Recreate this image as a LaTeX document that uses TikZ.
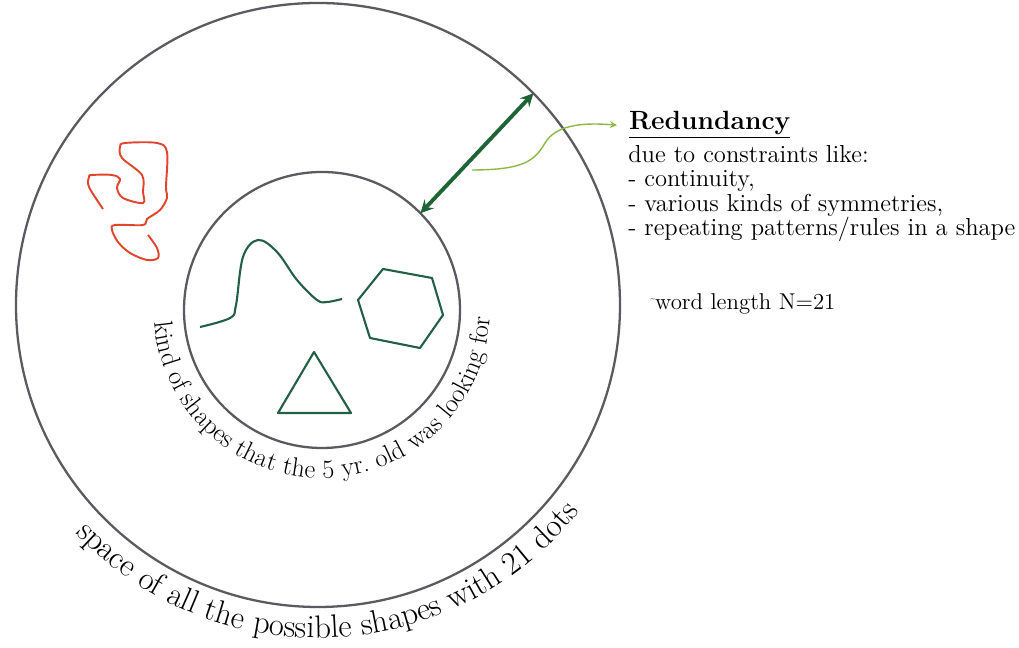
\documentclass[tikz,border=0pt]{standalone}
\usepackage{tikz}
\usetikzlibrary{calc, decorations.text}
\definecolor{ringgray}{RGB}{90,90,96}
\definecolor{shapegreen}{RGB}{35,95,70}
\definecolor{arrowgreen}{RGB}{30,100,55}
\definecolor{leafgreen}{RGB}{140,185,70}
\definecolor{scribred}{RGB}{225,70,45}

\begin{document}
\begin{tikzpicture}[x=0.02cm, y=0.02cm, >=stealth,
    ring/.style={line width=1.3pt, ringgray},
    wanted/.style={line width=1.2pt, shapegreen, line join=round}]
    \useasboundingbox (0,0) rectangle (1019,648);

    % Centres
    \coordinate (outerc) at (318,343);
    \coordinate (innerc) at (322,338);

    % Cercles
    \draw[ring] (outerc) circle (302);
    \draw[ring] (innerc) circle (138);

    % Textes le long des cercles
    \path[decorate, decoration={text along path, text align=center,
        text={|\fontsize{18.5}{21}\selectfont|space of all the possible shapes with 21 dots}}]
        ($(outerc)+(200:333)$) arc (200:345:333);
    \path[decorate, decoration={text along path, text align=center,
        text={|\fontsize{15}{17}\selectfont|kind of shapes that the 5 yr. old was looking for}}]
        ($(innerc)+(150:168)$) arc (150:392:168);

    % Forme quelconque
    \draw[scribred, line width=1.1pt] plot[smooth, tension=0.55] coordinates {
        (103,439) (89,461) (89,471) (92,473) (112,473) (120,469) (117,460)
        (123,450) (143,445) (143,456) (142,473) (122,490) (120,501) (125,505)
        (157,505) (167,496) (166,461) (167,450) (160,438) (147,429) (143,423)
        (115,423) (112,418) (118,406) (130,395) (147,388) (158,390) (157,400)
        (148,413)};

    % Formes recherchees
    \draw[wanted] plot[smooth, tension=0.6] coordinates {
        (200,321) (230,330) (236,343) (243,391) (258,408) (277,396)
        (297,368) (317,348) (327,346) (342,349)};
    \draw[wanted] (383,379) -- (432,370) -- (443,333) -- (420,300)
        -- (370,310) -- (358,348) -- cycle;
    \draw[wanted] (314,296) -- (351,235) -- (278,235) -- cycle;

    % Redondance
    \coordinate (gapin) at ($(innerc)+(44.5:138)$);
    \coordinate (gapout) at ($(outerc)+(44.5:302)$);
    \draw[<->, line width=2.2pt, arrowgreen] (gapin) -- (gapout);

    \node[anchor=base west, inner sep=1pt, font=\fontsize{15}{18}\selectfont\bfseries]
        (redund) at (627,518) {\underline{Redundancy}};
    \node[anchor=north west, align=left, inner sep=0pt,
        font=\fontsize{14}{13.9}\selectfont] (constraints) at (628,503)
        {due to constraints like:\\- continuity,\\- various kinds of symmetries,\\- repeating patterns/rules in a shape};
    \node[anchor=base west, inner sep=0pt, font=\fontsize{13}{15}\selectfont]
        (wordlen) at (650,338) {\raisebox{0.9ex}{\tiny\textasciitilde}word length N=21};

    \coordinate (curlstart) at (472,478);
    \draw[->, leafgreen, line width=0.8pt] (curlstart)
        .. controls (525,478) and (535,488) .. (545,505)
        .. controls (555,522) and (580,526) .. ($(redund.west)+(-10,0)$);
\end{tikzpicture}
\end{document}
